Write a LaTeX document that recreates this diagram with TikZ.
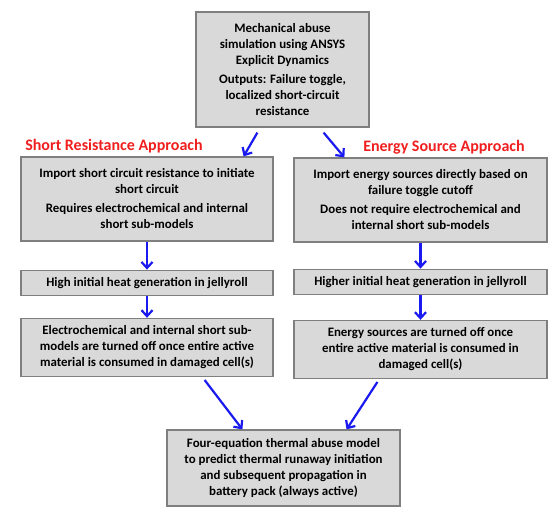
\documentclass[tikz,border=0pt]{standalone}
\usepackage{fontspec}
\setmainfont{Carlito}
\usepackage{tikz}
\usetikzlibrary{arrows.meta,positioning}
\definecolor{abuseFill}{HTML}{D9D9D9}
\definecolor{abuseEdge}{HTML}{7F7F7F}
\definecolor{abuseBlue}{HTML}{1A1AF0}
\definecolor{abuseRed}{HTML}{F01E1E}

\begin{document}
\begin{tikzpicture}[x=1pt,y=-1pt,
  font=\fontsize{12.9}{16}\selectfont\bfseries,
  box/.style={fill=abuseFill,draw=abuseEdge,line width=1.2pt,align=center,
              inner sep=3pt,minimum height=#1},
  box/.default=25pt,
  flow/.style={draw=abuseBlue,line width=2.2pt,-{Straight Barb[length=6pt,width=11pt,line width=2.2pt]}},
  approach/.style={text=abuseRed,font=\fontsize{16}{18}\selectfont\bfseries}]
  \useasboundingbox (0,0) rectangle (555,513);

  \node[box=115pt,minimum width=173pt] (sim) at (282.5,69.5)
    {Mechanical abuse\\simulation using ANSYS\\Explicit Dynamics\\[3pt]
     Outputs: Failure toggle,\\localized short-circuit\\resistance};

  % two approaches
  \node[approach] (lbl-res) at (114,146) {Short Resistance Approach};
  \node[approach] (lbl-src) at (444,147) {Energy Source Approach};

  \node[box=84pt,minimum width=252pt] (res-import) at (147,199)
    {Import short circuit resistance to initiate\\short circuit\\[3pt]
     Requires electrochemical and internal\\short sub-models};
  \node[box,minimum width=252pt,below=28pt of res-import] (res-heat)
    {High initial heat generation in jellyroll};
  \node[box=58pt,minimum width=252pt,below=22pt of res-heat] (res-off)
    {Electrochemical and internal short sub-\\models are turned off once entire active\\material is consumed in damaged cell(s)};

  \node[box=84pt,minimum width=253pt] (src-import) at (420.5,200)
    {Import energy sources directly based on\\failure toggle cutoff\\[3pt]
     Does not require electrochemical and\\internal short sub-models};
  \node[box,minimum width=253pt,below=26pt of src-import] (src-heat)
    {Higher initial heat generation in jellyroll};
  \node[box=58pt,minimum width=253pt,below=25pt of src-heat] (src-off)
    {Energy sources are turned off once\\entire active material is consumed in\\damaged cell(s)};

  \node[box=76pt,minimum width=233pt] (pack) at (283.5,468)
    {Four-equation thermal abuse model\\to predict thermal runaway initiation\\and subsequent propagation in\\battery pack (always active)};

  \draw[flow] ([xshift=62pt,yshift=-5pt]sim.south west) -- ([xshift=-30pt]res-import.north east);
  \draw[flow] ([xshift=-46pt,yshift=-5pt]sim.south east) -- ([xshift=51pt]src-import.north west);
  \draw[flow] (res-import) -- (res-heat);
  \draw[flow] (res-heat) -- (res-off);
  \draw[flow] (src-import) -- (src-heat);
  \draw[flow] (src-heat) -- (src-off);
  \draw[flow] ([xshift=-69pt,yshift=-3pt]res-off.south east) -- ([xshift=76pt]pack.north west);
  \draw[flow] ([xshift=84pt,yshift=-3pt]src-off.south west) -- ([xshift=-54pt]pack.north east);
\end{tikzpicture}
\end{document}
